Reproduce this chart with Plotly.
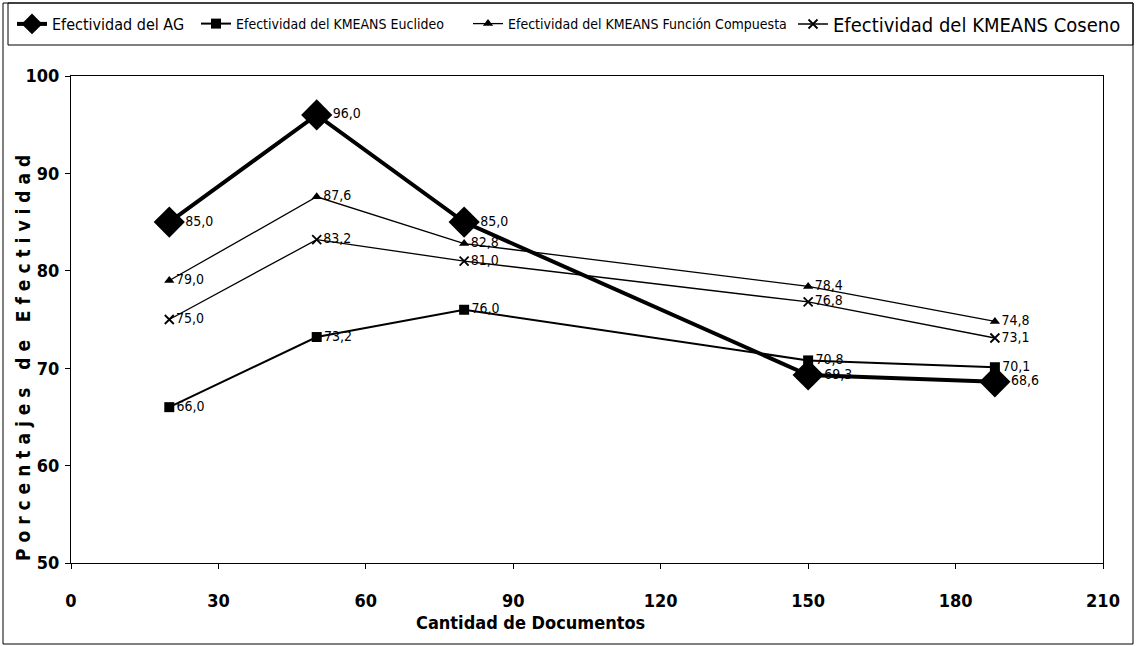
import plotly.graph_objects as go

# Document counts used in each run
documentos = [20, 50, 80, 150, 188]

# Effectiveness (%) per method
ag = [85.0, 96.0, 85.0, 69.3, 68.6]
kmeans_euclideo = [66.0, 73.2, 76.0, 70.8, 70.1]
kmeans_compuesta = [79.0, 87.6, 82.8, 78.4, 74.8]
kmeans_coseno = [75.0, 83.2, 81.0, 76.8, 73.1]

x_ticks = [0, 30, 60, 90, 120, 150, 180, 210]
y_ticks = [50, 60, 70, 80, 90, 100]

NARROW = "DejaVu Sans Condensed, Liberation Sans Narrow, Arial Narrow, sans-serif"
W, H = 1137, 646
L, R, T, B = 71, 1103, 76, 563  # plot area in pixels


def fmt(vals):
    return [f"{v:.1f}".replace(".", ",") for v in vals]


def px_x(p):
    return (p - L) / (R - L)


def px_y(p):
    return (B - p) / (B - T)


# each series gets its own legend box so the entries can be spread along the top
series = [
    dict(name="Efectividad del AG", y=ag, width=4, legend="legend",
         lx=12, lsize=16,
         marker=dict(symbol="diamond", size=24, color="black")),
    dict(name="Efectividad del KMEANS Euclideo", y=kmeans_euclideo, width=2,
         legend="legend2", lx=196, lsize=14,
         marker=dict(symbol="square", size=10, color="black")),
    dict(name="Efectividad del KMEANS Función Compuesta", y=kmeans_compuesta,
         width=1.3, legend="legend3", lx=468, lsize=14,
         marker=dict(symbol="triangle-up", size=9, color="black")),
    dict(name="Efectividad del KMEANS Coseno", y=kmeans_coseno, width=1.3,
         legend="legend4", lx=793, lsize=20,
         marker=dict(symbol="x-thin-open", size=9, color="black",
                     line=dict(width=1.8, color="black"))),
]

fig = go.Figure()
legend_layouts = {}
for s in series:
    fig.add_trace(go.Scatter(
        x=documentos, y=s["y"], name=s["name"], legend=s["legend"],
        mode="lines+markers+text",
        line=dict(color="black", width=s["width"]),
        marker=s["marker"],
        text=fmt(s["y"]), textposition="middle right",
        textfont=dict(family=NARROW, size=14, color="black"),
        cliponaxis=False,
    ))
    legend_layouts[s["legend"]] = dict(
        orientation="h", x=px_x(s["lx"]), xanchor="left",
        y=px_y(24), yanchor="middle",
        font=dict(family=NARROW, size=s["lsize"], color="black"),
        bgcolor="rgba(0,0,0,0)", borderwidth=0,
    )

axis_common = dict(
    showline=True, linecolor="black", linewidth=1, mirror=True,
    showgrid=False, zeroline=False, ticks="outside", ticklen=5,
    tickcolor="black",
    tickfont=dict(family=NARROW, size=18, color="black", weight="bold"),
)

fig.update_xaxes(range=[0, 210], tickvals=x_ticks, ticklabelstandoff=16, **axis_common)
fig.update_yaxes(range=[50, 100], tickvals=y_ticks, ticklabelstandoff=2, **axis_common)

fig.update_layout(
    width=W, height=H,
    margin=dict(l=L, r=W - R, t=T, b=H - B, autoexpand=False),
    paper_bgcolor="white", plot_bgcolor="white",
    showlegend=True,
    annotations=[
        dict(text="Cantidad de Documentos", xref="paper", yref="paper",
             x=px_x(530), y=px_y(622), xanchor="center", yanchor="middle",
             showarrow=False,
             font=dict(family=NARROW, size=18, color="black", weight="bold")),
        dict(text="P o r c e n t a j e s   d e   E f e c t i v i d a d",
             xref="paper", yref="paper", textangle=-90,
             x=px_x(23), y=px_y(358), xanchor="center", yanchor="middle",
             showarrow=False,
             font=dict(family=NARROW, size=19, color="black", weight="bold")),
    ],
    shapes=[
        # outer chart frame
        dict(type="rect", xref="paper", yref="paper",
             x0=px_x(3), x1=px_x(1133), y0=px_y(644), y1=px_y(3),
             line=dict(color="black", width=1)),
        # legend frame
        dict(type="rect", xref="paper", yref="paper",
             x0=px_x(8), x1=px_x(1133), y0=px_y(45), y1=px_y(3),
             line=dict(color="black", width=1)),
    ],
    **legend_layouts,
)

fig.write_html("out.html")
